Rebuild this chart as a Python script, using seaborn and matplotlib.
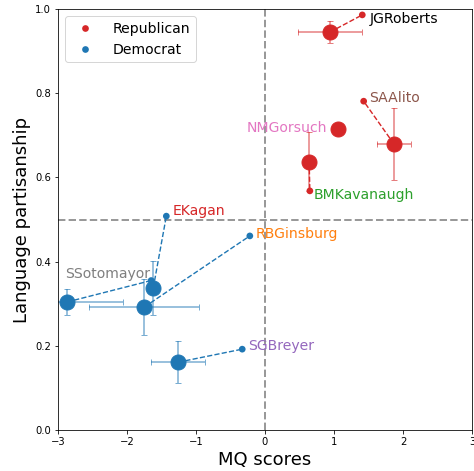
import numpy as np
import pandas as pd
import matplotlib
matplotlib.use("Agg")
import matplotlib.pyplot as plt
import seaborn as sns

# justices, party and the two measures (mean with error, and single point)
justices = ['JGRoberts', 'SAAlito', 'NMGorsuch', 'BMKavanaugh',
            'EKagan', 'RBGinsburg', 'SSotomayor', 'SGBreyer']
party = ['Republican', 'Republican', 'Republican', 'Republican',
         'Democrat', 'Democrat', 'Democrat', 'Democrat']
mq_mean = [0.94, 1.87, 1.06, 0.64, -1.62, -1.75, -2.87, -1.26]
mq_err = [0.46, 0.25, 0.0, 0.0, 0.0, 0.80, 0.81, 0.39]
lp_mean = [0.945, 0.679, 0.715, 0.637, 0.337, 0.292, 0.304, 0.161]
lp_err = [0.026, 0.086, 0.0, 0.07, 0.064, 0.067, 0.031, 0.05]
mq_point = [1.41, 1.43, 1.06, 0.65, -1.43, -0.22, -1.65, -0.33]
lp_point = [0.986, 0.781, 0.715, 0.568, 0.508, 0.461, 0.355, 0.192]

label_colors = {'JGRoberts': 'black', 'SAAlito': 'tab:brown',
                'NMGorsuch': 'tab:pink', 'BMKavanaugh': 'tab:green',
                'EKagan': 'tab:red', 'RBGinsburg': 'tab:orange',
                'SSotomayor': 'tab:gray', 'SGBreyer': 'tab:purple'}
# label offsets in points (dx, dy, horizontal alignment)
label_offsets = {'JGRoberts': (7, -8, 'left'), 'SAAlito': (5, -1, 'left'),
                 'NMGorsuch': (-11, -3, 'right'), 'BMKavanaugh': (4, -8, 'left'),
                 'EKagan': (6, 1, 'left'), 'RBGinsburg': (6, -2, 'left'),
                 'SSotomayor': (-1, 3, 'right'), 'SGBreyer': (6, -1, 'left')}

palette = {'Republican': '#d62728', 'Democrat': '#1f77b4'}

df = pd.DataFrame({'justice': justices, 'party': party,
                   'mq_mean': mq_mean, 'mq_err': mq_err,
                   'lp_mean': lp_mean, 'lp_err': lp_err,
                   'mq_point': mq_point, 'lp_point': lp_point})

fig = plt.figure(figsize=(474 / 72, 471 / 72), dpi=72)
ax = fig.add_axes([58 / 474, 41 / 471, 414 / 474, 421 / 471])

ax.axvline(0, color='grey', alpha=0.8, ls='--', lw=2, zorder=1)
ax.axhline(0.5, color='grey', alpha=0.8, ls='--', lw=2, zorder=1)

for _, r in df.iterrows():
    c = palette[r['party']]
    ax.plot([r['mq_mean'], r['mq_point']], [r['lp_mean'], r['lp_point']],
            ls='--', color=c, lw=1.4, zorder=2)
    ax.errorbar(r['mq_mean'], r['lp_mean'], xerr=r['mq_err'], yerr=r['lp_err'],
                fmt='none', ecolor=c, alpha=0.6, elinewidth=1.5, capsize=3,
                zorder=2)

sns.scatterplot(data=df, x='mq_point', y='lp_point', hue='party',
                palette=palette, s=45, linewidth=0, ax=ax, zorder=3)

for _, r in df.iterrows():
    ax.plot(r['mq_mean'], r['lp_mean'], 'o', color=palette[r['party']],
            ms=15, zorder=4)

for _, r in df.iterrows():
    dx, dy, ha = label_offsets[r['justice']]
    ax.annotate(r['justice'], (r['mq_point'], r['lp_point']),
                xytext=(dx, dy), textcoords='offset points', ha=ha,
                va='baseline', fontsize=14, color=label_colors[r['justice']],
                zorder=5)

ax.set_xlim(-3, 3)
ax.set_ylim(0, 1)
ax.set_xlabel('MQ scores', fontsize=18)
ax.set_ylabel('Language partisanship', fontsize=18)
ax.legend(loc='upper left', fontsize=14, handletextpad=1.0)

fig.savefig('out.png', dpi=72)
